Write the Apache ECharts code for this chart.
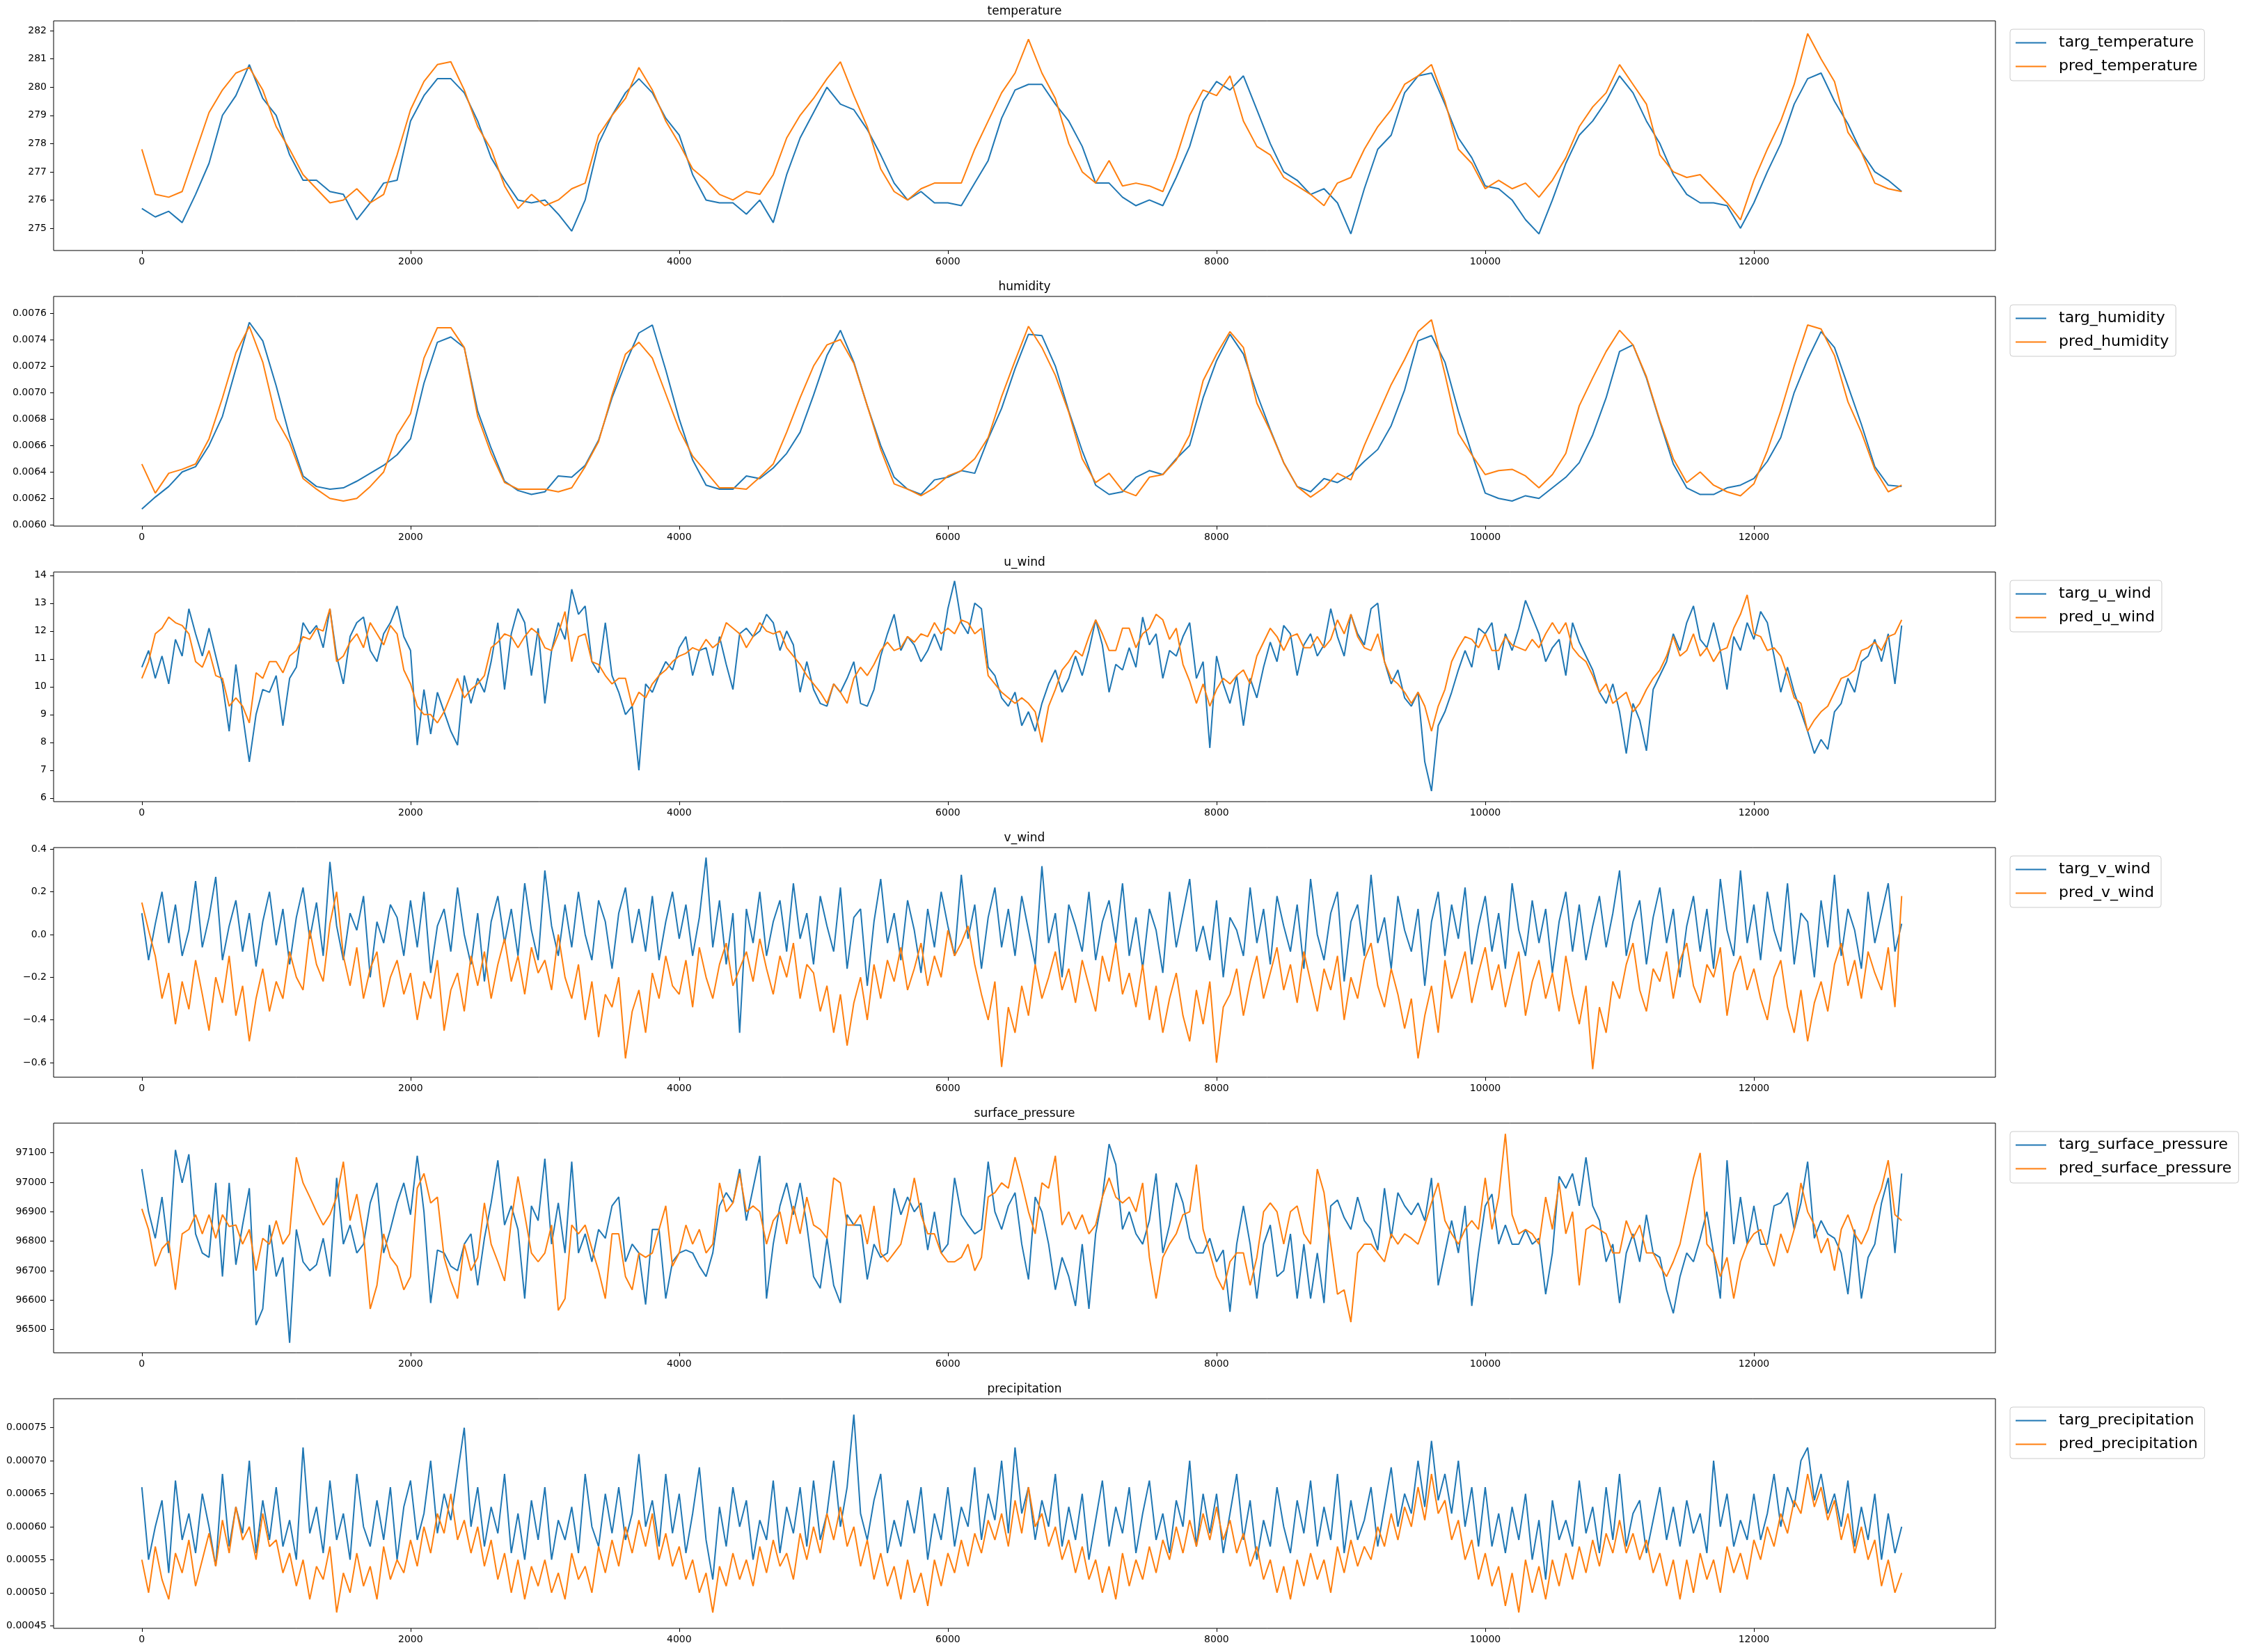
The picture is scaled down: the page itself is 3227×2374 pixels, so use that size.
<!DOCTYPE html>
<html>
<head>
<meta charset="utf-8">
<title>targ vs pred</title>
<script src="https://cdn.jsdelivr.net/npm/echarts@6/dist/echarts.min.js"></script>
<style>
html,body{margin:0;padding:0;background:#fff;}
#chart{width:3227px;height:2374px;}
</style>
</head>
<body>
<div id="chart"></div>
<script>
// samples: smooth panels every 100 steps, noisy ones every 50
const coarseStep = 100;
const fineStep = 50;
const xTicks = [0, 2000, 4000, 6000, 8000, 10000, 12000];

const targTemperature = [
  275.7,275.4,275.6,275.2,276.2,277.3,279.0,279.7,280.8,279.6,
  279.0,277.6,276.7,276.7,276.3,276.2,275.3,275.9,276.6,276.7,
  278.8,279.7,280.3,280.3,279.8,278.8,277.5,276.7,276.0,275.9,
  276.0,275.5,274.9,276.0,278.0,279.0,279.8,280.3,279.8,278.9,
  278.3,276.9,276.0,275.9,275.9,275.5,276.0,275.2,276.9,278.2,
  279.1,280.0,279.4,279.2,278.5,277.6,276.6,276.0,276.3,275.9,
  275.9,275.8,276.6,277.4,278.9,279.9,280.1,280.1,279.4,278.8,
  277.9,276.6,276.6,276.1,275.8,276.0,275.8,276.8,277.9,279.5,
  280.2,279.9,280.4,279.2,278.0,277.0,276.7,276.2,276.4,275.9,
  274.8,276.4,277.8,278.3,279.8,280.4,280.5,279.4,278.2,277.5,
  276.5,276.4,276.0,275.3,274.8,276.0,277.3,278.3,278.8,279.5,
  280.4,279.8,278.8,278.0,276.9,276.2,275.9,275.9,275.8,275.0,
  275.9,277.0,278.0,279.4,280.3,280.5,279.5,278.7,277.7,277.0,
  276.7,276.3
];
const predTemperature = [
  277.8,276.2,276.1,276.3,277.7,279.1,279.9,280.5,280.7,279.9,
  278.6,277.8,276.9,276.4,275.9,276.0,276.4,275.9,276.2,277.6,
  279.2,280.2,280.8,280.9,279.9,278.6,277.8,276.5,275.7,276.2,
  275.8,276.0,276.4,276.6,278.3,279.0,279.6,280.7,279.9,278.8,
  278.0,277.1,276.7,276.2,276.0,276.3,276.2,276.9,278.2,279.0,
  279.6,280.3,280.9,279.7,278.6,277.1,276.3,276.0,276.4,276.6,
  276.6,276.6,277.8,278.8,279.8,280.5,281.7,280.5,279.6,278.0,
  277.0,276.6,277.4,276.5,276.6,276.5,276.3,277.5,279.0,279.9,
  279.7,280.4,278.8,277.9,277.6,276.8,276.5,276.2,275.8,276.6,
  276.8,277.8,278.6,279.2,280.1,280.4,280.8,279.5,277.8,277.3,
  276.4,276.7,276.4,276.6,276.1,276.7,277.5,278.6,279.3,279.8,
  280.8,280.1,279.4,277.6,277.0,276.8,276.9,276.4,275.9,275.3,
  276.7,277.8,278.8,280.1,281.9,281.0,280.2,278.4,277.7,276.6,
  276.4,276.3
];

const targHumidity = [
  0.00612,0.00621,0.00629,0.00640,0.00644,0.00660,0.00682,0.00718,0.00753,0.00739,
  0.00705,0.00667,0.00637,0.00629,0.00627,0.00628,0.00633,0.00639,0.00645,0.00653,
  0.00665,0.00707,0.00738,0.00742,0.00734,0.00686,0.00658,0.00633,0.00626,0.00623,
  0.00625,0.00637,0.00636,0.00645,0.00664,0.00696,0.00722,0.00745,0.00751,0.00717,
  0.00680,0.00649,0.00630,0.00627,0.00627,0.00637,0.00635,0.00643,0.00654,0.00670,
  0.00698,0.00728,0.00747,0.00723,0.00690,0.00660,0.00636,0.00627,0.00623,0.00634,
  0.00636,0.00641,0.00639,0.00665,0.00688,0.00718,0.00744,0.00743,0.00720,0.00686,
  0.00656,0.00630,0.00623,0.00625,0.00636,0.00641,0.00638,0.00650,0.00660,0.00696,
  0.00724,0.00744,0.00729,0.00699,0.00672,0.00647,0.00629,0.00625,0.00635,0.00632,
  0.00638,0.00648,0.00657,0.00675,0.00702,0.00739,0.00743,0.00723,0.00686,0.00654,
  0.00624,0.00620,0.00618,0.00622,0.00620,0.00628,0.00636,0.00647,0.00668,0.00696,
  0.00731,0.00736,0.00711,0.00678,0.00646,0.00628,0.00623,0.00623,0.00628,0.00630,
  0.00635,0.00648,0.00666,0.00700,0.00725,0.00746,0.00734,0.00705,0.00676,0.00644,
  0.00630,0.00629
];
const predHumidity = [
  0.00646,0.00624,0.00639,0.00642,0.00646,0.00665,0.00696,0.00730,0.00750,0.00723,
  0.00680,0.00662,0.00635,0.00627,0.00620,0.00618,0.00620,0.00629,0.00640,0.00668,
  0.00684,0.00726,0.00749,0.00749,0.00734,0.00682,0.00654,0.00632,0.00627,0.00627,
  0.00627,0.00625,0.00628,0.00644,0.00663,0.00698,0.00729,0.00738,0.00726,0.00699,
  0.00672,0.00652,0.00640,0.00628,0.00628,0.00627,0.00636,0.00646,0.00670,0.00696,
  0.00720,0.00736,0.00740,0.00722,0.00690,0.00657,0.00631,0.00627,0.00622,0.00628,
  0.00637,0.00641,0.00650,0.00666,0.00697,0.00724,0.00750,0.00734,0.00713,0.00685,
  0.00650,0.00632,0.00639,0.00626,0.00622,0.00636,0.00638,0.00649,0.00668,0.00709,
  0.00729,0.00746,0.00734,0.00692,0.00671,0.00647,0.00629,0.00621,0.00628,0.00639,
  0.00634,0.00660,0.00683,0.00706,0.00725,0.00746,0.00755,0.00714,0.00669,0.00653,
  0.00638,0.00641,0.00642,0.00637,0.00628,0.00638,0.00654,0.00690,0.00711,0.00731,
  0.00747,0.00736,0.00712,0.00679,0.00650,0.00632,0.00640,0.00630,0.00625,0.00622,
  0.00631,0.00656,0.00686,0.00720,0.00751,0.00748,0.00728,0.00693,0.00670,0.00642,
  0.00625,0.00630
];

const targUWind = [
  10.7,11.3,10.3,11.1,10.1,11.7,11.1,12.8,11.9,11.1,
  12.1,11.1,10.1,8.4,10.8,9.0,7.3,9.0,9.9,9.8,
  10.4,8.6,10.3,10.7,12.3,11.9,12.2,11.4,12.8,11.1,
  10.1,11.8,12.3,12.5,11.3,10.9,11.9,12.3,12.9,11.8,
  11.3,7.9,9.9,8.3,9.8,9.1,8.4,7.9,10.4,9.4,
  10.3,9.8,10.9,12.3,9.9,11.9,12.8,12.3,10.4,12.1,
  9.4,11.3,12.3,11.7,13.5,12.6,12.9,10.9,10.5,12.3,
  10.4,9.8,9.0,9.3,7.0,10.1,9.8,10.4,10.9,10.6,
  11.4,11.8,10.4,11.3,11.4,10.4,11.8,10.8,9.9,11.9,
  12.1,11.8,12.0,12.6,12.3,11.3,12.0,11.5,9.8,10.9,
  9.9,9.4,9.3,10.1,9.8,10.3,10.9,9.4,9.3,9.9,
  11.1,11.9,12.6,11.3,11.8,11.5,10.9,11.3,11.9,11.3,
  12.8,13.8,12.3,11.9,13.0,12.8,10.7,10.4,9.6,9.3,
  9.8,8.6,9.1,8.4,9.4,10.1,10.6,9.8,10.3,11.1,
  10.4,11.3,12.4,11.5,9.8,10.8,10.6,11.4,10.7,12.5,
  11.5,11.9,10.3,11.3,11.1,11.8,12.3,10.3,10.9,7.8,
  11.1,10.1,9.4,10.4,8.6,10.3,9.6,10.7,11.6,10.9,
  12.2,11.9,10.4,11.5,11.9,11.1,11.5,12.8,11.8,11.1,
  12.6,11.9,11.5,12.8,13.0,10.9,10.1,10.6,9.6,9.3,
  9.8,7.3,6.25,8.6,9.1,9.8,10.6,11.3,10.7,12.1,
  11.9,12.3,10.6,11.9,11.3,12.1,13.1,12.5,11.9,10.9,
  11.4,11.7,10.4,12.3,11.6,11.1,10.6,9.8,9.4,10.1,
  9.1,7.6,9.4,8.8,7.7,9.9,10.4,10.9,11.9,11.3,
  12.3,12.9,11.7,11.4,12.3,11.3,9.9,11.8,11.3,12.3,
  11.7,12.7,12.3,11.1,9.8,10.7,9.8,9.1,8.4,7.6,
  8.1,7.75,9.1,9.4,10.3,9.8,10.9,11.1,11.7,10.9,
  11.9,10.1,12.2
];
const predUWind = [
  10.3,10.9,11.9,12.1,12.5,12.3,12.2,11.9,10.9,10.7,
  11.3,10.4,10.3,9.3,9.6,9.3,8.7,10.5,10.3,10.9,
  10.9,10.5,11.1,11.3,11.8,11.7,12.1,12.0,12.8,10.9,
  11.1,11.6,11.9,11.4,12.3,11.9,11.5,12.2,11.9,10.6,
  10.1,9.3,9.0,9.0,8.7,9.1,9.7,10.3,9.6,9.9,
  10.1,10.4,11.4,11.6,11.9,11.8,11.4,11.8,12.1,11.9,
  11.4,11.3,11.9,12.7,10.9,11.8,11.9,10.9,10.8,10.4,
  10.1,10.3,10.3,9.3,9.8,9.6,10.1,10.4,10.6,10.9,
  11.1,11.2,11.4,11.3,11.7,11.4,11.6,12.3,12.1,11.9,
  11.4,11.8,12.3,12.0,11.9,12.0,11.4,11.1,10.8,10.4,
  10.1,9.8,9.4,10.1,9.8,9.4,10.3,10.7,10.4,10.8,
  11.3,11.6,11.3,11.4,11.8,11.6,11.9,11.8,12.3,11.9,
  12.1,11.9,12.4,12.3,11.9,12.1,10.4,10.1,9.8,9.6,
  9.4,9.6,9.4,9.1,8.0,9.3,9.9,10.6,10.9,11.3,
  11.1,11.8,12.4,11.9,11.3,11.3,12.1,12.1,11.4,11.9,
  12.1,12.6,12.4,11.7,12.1,10.8,10.2,9.4,10.1,9.3,
  9.9,10.3,10.1,10.4,10.6,10.1,11.1,11.6,12.1,11.8,
  11.3,11.8,11.9,11.4,11.4,11.8,11.4,11.7,12.4,11.9,
  12.6,11.8,11.4,11.3,11.9,10.9,10.3,10.1,9.8,9.4,
  9.8,9.3,8.4,9.3,9.9,10.9,11.4,11.8,11.7,11.4,
  11.9,11.3,11.3,11.8,11.5,11.4,11.3,11.7,11.4,11.9,
  12.3,11.9,12.3,11.4,11.1,10.9,10.4,9.8,10.1,9.4,
  9.6,9.8,9.1,9.4,9.9,10.3,10.6,11.1,11.8,11.1,
  11.3,11.9,11.1,11.4,10.9,11.3,11.4,12.1,12.6,13.3,
  11.9,11.8,11.3,11.4,11.1,10.4,9.6,9.4,8.4,8.8,
  9.1,9.3,9.8,10.3,10.4,10.6,11.3,11.4,11.6,11.3,
  11.8,11.9,12.4
];

const targVWind = [
  0.10,-0.12,0.05,0.20,-0.04,0.14,-0.10,0.02,0.25,-0.06,
  0.08,0.27,-0.12,0.04,0.16,-0.08,0.10,-0.15,0.06,0.20,
  -0.05,0.12,-0.14,0.08,0.22,-0.02,0.15,-0.10,0.34,0.04,
  -0.12,0.10,0.02,0.18,-0.20,0.06,-0.04,0.14,0.08,-0.10,
  0.16,-0.06,0.20,-0.18,0.04,0.12,-0.08,0.22,0.00,-0.14,
  0.10,-0.22,0.06,0.18,-0.04,0.12,-0.10,0.24,0.02,-0.12,
  0.30,0.04,-0.10,0.14,-0.06,0.20,0.00,-0.12,0.16,0.06,
  -0.16,0.10,0.22,-0.04,0.12,-0.08,0.18,-0.12,0.06,0.20,
  -0.02,0.14,-0.10,0.08,0.36,-0.06,0.16,-0.14,0.10,-0.46,
  0.12,-0.04,0.20,-0.10,0.06,0.16,-0.08,0.24,-0.02,0.10,
  -0.14,0.18,0.04,-0.08,0.22,-0.16,0.08,0.12,-0.24,0.06,
  0.26,-0.04,0.10,-0.12,0.16,0.02,-0.18,0.12,-0.06,0.20,
  0.04,-0.10,0.28,-0.02,0.14,-0.16,0.08,0.22,-0.06,0.12,
  -0.10,0.18,0.02,-0.14,0.32,-0.04,0.10,-0.20,0.14,0.04,
  -0.08,0.20,-0.12,0.06,0.16,-0.04,0.24,-0.10,0.08,-0.16,
  0.12,0.02,-0.18,0.20,-0.06,0.10,0.26,-0.08,0.04,-0.12,
  0.16,-0.20,0.08,0.02,-0.10,0.22,-0.04,0.12,-0.14,0.18,
  0.04,-0.08,0.14,-0.16,0.26,0.00,-0.12,0.10,0.20,-0.22,
  0.06,0.14,-0.10,0.28,-0.04,0.08,-0.16,0.18,0.02,-0.08,
  0.12,-0.24,0.06,0.20,-0.10,0.14,-0.02,0.22,-0.14,0.04,
  0.18,-0.08,0.10,-0.16,0.24,0.02,-0.10,0.16,-0.04,0.12,
  -0.18,0.06,0.20,-0.08,0.14,-0.12,0.04,0.18,-0.06,0.10,
  0.30,-0.10,0.06,0.16,-0.14,0.08,0.22,-0.04,0.12,-0.20,
  0.04,0.18,-0.08,0.12,-0.16,0.26,0.02,-0.10,0.30,-0.04,
  0.14,-0.12,0.20,0.02,-0.08,0.24,-0.14,0.10,0.06,-0.20,
  0.16,-0.06,0.28,-0.10,0.12,0.02,-0.16,0.20,-0.04,0.10,
  0.24,-0.08,0.05
];
const predVWind = [
  0.15,0.02,-0.10,-0.30,-0.18,-0.42,-0.22,-0.35,-0.12,-0.28,
  -0.45,-0.20,-0.32,-0.10,-0.38,-0.24,-0.50,-0.30,-0.16,-0.36,
  -0.22,-0.30,-0.08,-0.20,-0.26,0.02,-0.14,-0.22,0.05,0.20,
  -0.10,-0.24,-0.06,-0.30,-0.16,-0.08,-0.34,-0.20,-0.12,-0.28,
  -0.18,-0.40,-0.22,-0.30,-0.12,-0.45,-0.26,-0.18,-0.36,-0.10,
  -0.24,-0.08,-0.30,-0.14,-0.02,-0.22,-0.10,-0.28,-0.06,-0.18,
  -0.12,-0.26,0.00,-0.20,-0.30,-0.14,-0.40,-0.22,-0.48,-0.28,
  -0.34,-0.20,-0.58,-0.36,-0.26,-0.46,-0.18,-0.30,-0.10,-0.24,
  -0.28,-0.12,-0.34,-0.06,-0.20,-0.30,-0.14,-0.04,-0.24,-0.16,
  -0.08,-0.22,-0.02,-0.16,-0.28,-0.10,-0.20,-0.04,-0.30,-0.14,
  -0.18,-0.36,-0.24,-0.46,-0.28,-0.52,-0.32,-0.20,-0.40,-0.14,
  -0.30,-0.12,-0.22,-0.06,-0.26,-0.16,-0.04,-0.24,-0.10,-0.20,
  0.02,-0.10,-0.04,0.04,-0.14,-0.28,-0.40,-0.22,-0.62,-0.34,
  -0.46,-0.24,-0.38,-0.14,-0.30,-0.20,-0.08,-0.26,-0.16,-0.32,
  -0.12,-0.24,-0.36,-0.10,-0.22,-0.04,-0.28,-0.18,-0.34,-0.14,
  -0.40,-0.24,-0.46,-0.30,-0.18,-0.38,-0.50,-0.26,-0.42,-0.22,
  -0.60,-0.34,-0.28,-0.16,-0.38,-0.22,-0.10,-0.30,-0.18,-0.06,
  -0.26,-0.14,-0.32,-0.08,-0.22,-0.36,-0.16,-0.26,-0.10,-0.40,
  -0.20,-0.30,-0.12,-0.04,-0.24,-0.34,-0.16,-0.28,-0.44,-0.30,
  -0.58,-0.38,-0.24,-0.46,-0.12,-0.30,-0.20,-0.08,-0.32,-0.18,
  -0.06,-0.26,-0.14,-0.34,-0.20,-0.08,-0.38,-0.22,-0.12,-0.30,
  -0.18,-0.36,-0.10,-0.28,-0.42,-0.24,-0.63,-0.34,-0.46,-0.22,
  -0.30,-0.14,-0.04,-0.26,-0.36,-0.16,-0.22,-0.08,-0.30,-0.12,
  -0.04,-0.24,-0.32,-0.14,-0.20,-0.06,-0.38,-0.18,-0.10,-0.26,
  -0.16,-0.30,-0.40,-0.20,-0.12,-0.34,-0.46,-0.26,-0.50,-0.32,
  -0.22,-0.36,-0.14,-0.04,-0.24,-0.12,-0.30,-0.08,-0.18,-0.26,
  -0.06,-0.34,0.18
];

const targPressure = [
  97045,96900,96810,96950,96760,97110,96998,97095,96825,96760,
  96745,96998,96680,96998,96720,96855,96980,96515,96570,96855,
  96680,96745,96455,96840,96730,96700,96720,96810,96680,97015,
  96790,96855,96760,96790,96930,96998,96760,96840,96930,96998,
  96890,97090,96900,96590,96770,96760,96715,96700,96790,96825,
  96650,96810,96930,97075,96855,96920,96840,96605,96920,96870,
  97080,96790,96930,96760,97070,96760,96825,96730,96840,96810,
  96920,96950,96730,96790,96760,96585,96840,96840,96605,96730,
  96760,96770,96760,96715,96680,96760,96920,96965,96930,97045,
  96870,96980,97090,96605,96790,96920,96998,96890,96998,96855,
  96680,96640,96810,96650,96590,96890,96855,96855,96670,96790,
  96745,96760,96980,96890,96950,96900,96930,96770,96900,96760,
  96790,97015,96890,96855,96825,96840,97070,96900,96840,96920,
  96965,96790,96670,96950,96900,96790,96635,96745,96680,96580,
  96790,96570,96825,96950,97130,97060,96840,96900,96825,96790,
  96870,97030,96760,96855,96998,96930,96810,96760,96760,96810,
  96730,96770,96560,96790,96920,96790,96605,96790,96855,96680,
  96700,96825,96605,96790,96605,96760,96590,96920,96940,96880,
  96840,96950,96870,96840,96770,96980,96810,96965,96920,96890,
  96930,96870,97015,96650,96760,96870,96760,96920,96580,96760,
  96920,96960,96790,96855,96790,96790,96840,96790,96810,96620,
  96760,97020,96980,97030,96920,97085,96920,96870,96730,96790,
  96590,96760,96825,96730,96890,96760,96745,96635,96555,96680,
  96760,96730,96810,96900,96760,96605,97075,96790,96950,96790,
  96920,96790,96790,96920,96930,96965,96840,96930,97070,96810,
  96870,96825,96810,96760,96620,96840,96605,96745,96790,96930,
  97015,96760,97030
];
const predPressure = [
  96910,96840,96715,96775,96800,96635,96825,96840,96890,96825,
  96890,96810,96890,96850,96855,96790,96840,96700,96810,96790,
  96870,96790,96825,97085,96998,96950,96900,96855,96890,96950,
  97070,96870,96960,96825,96570,96650,96825,96745,96715,96635,
  96680,96980,97030,96930,96950,96745,96665,96605,96790,96700,
  96745,96930,96790,96730,96665,96870,97020,96890,96760,96730,
  96760,96855,96565,96605,96855,96825,96855,96775,96700,96605,
  96825,96825,96680,96635,96760,96745,96760,96840,96920,96715,
  96760,96855,96790,96840,96760,96790,96998,96900,96930,97030,
  96900,96920,96900,96790,96870,96900,96790,96920,96825,96950,
  96855,96840,96810,97015,96998,96855,96855,96890,96790,96920,
  96760,96730,96760,96790,96890,97015,96890,96825,96825,96760,
  96730,96730,96745,96790,96700,96745,96950,96965,96998,96980,
  97085,96998,96900,96825,96998,96980,97090,96855,96900,96840,
  96890,96825,96855,96950,97015,96950,96930,96950,96900,96998,
  96745,96605,96745,96790,96825,96890,96900,97060,96840,96760,
  96680,96635,96730,96760,96760,96650,96745,96900,96930,96900,
  96790,96900,96920,96825,96790,97045,96965,96790,96620,96635,
  96525,96760,96790,96790,96760,96730,96825,96790,96825,96810,
  96790,96855,96930,96998,96870,96825,96790,96840,96870,96840,
  97015,96840,96950,97165,96890,96825,96840,96825,96790,96950,
  96840,96998,96825,96900,96650,96840,96855,96840,96825,96760,
  96760,96870,96810,96855,96760,96760,96715,96680,96730,96790,
  96900,97015,97100,96790,96760,96680,96745,96605,96730,96790,
  96825,96840,96775,96715,96825,96760,96840,96998,96900,96855,
  96760,96810,96700,96840,96890,96825,96790,96840,96920,96980,
  97075,96890,96870
];

const targPrecipitation = [
  0.00066,0.00055,0.00060,0.00064,0.00053,0.00067,0.00058,0.00062,0.00056,0.00065,
  0.00060,0.00054,0.00068,0.00057,0.00063,0.00059,0.00070,0.00056,0.00064,0.00058,
  0.00066,0.00057,0.00061,0.00055,0.00072,0.00059,0.00063,0.00056,0.00067,0.00058,
  0.00062,0.00055,0.00068,0.00060,0.00057,0.00064,0.00058,0.00066,0.00055,0.00063,
  0.00067,0.00058,0.00062,0.00070,0.00059,0.00065,0.00061,0.00068,0.00075,0.00060,
  0.00066,0.00057,0.00063,0.00059,0.00068,0.00056,0.00062,0.00055,0.00064,0.00058,
  0.00066,0.00055,0.00061,0.00058,0.00063,0.00056,0.00068,0.00060,0.00057,0.00065,
  0.00059,0.00066,0.00058,0.00062,0.00071,0.00060,0.00064,0.00057,0.00068,0.00059,
  0.00065,0.00056,0.00062,0.00069,0.00058,0.00052,0.00063,0.00057,0.00066,0.00060,
  0.00064,0.00055,0.00061,0.00058,0.00067,0.00056,0.00063,0.00059,0.00066,0.00057,
  0.00067,0.00058,0.00062,0.00070,0.00060,0.00066,0.00077,0.00062,0.00058,0.00064,
  0.00068,0.00056,0.00061,0.00057,0.00064,0.00059,0.00066,0.00055,0.00062,0.00058,
  0.00066,0.00057,0.00063,0.00060,0.00069,0.00058,0.00065,0.00061,0.00070,0.00059,
  0.00072,0.00062,0.00066,0.00058,0.00064,0.00060,0.00068,0.00057,0.00063,0.00058,
  0.00065,0.00055,0.00061,0.00067,0.00057,0.00063,0.00059,0.00066,0.00056,0.00062,
  0.00067,0.00058,0.00062,0.00056,0.00064,0.00060,0.00070,0.00057,0.00065,0.00059,
  0.00065,0.00056,0.00062,0.00068,0.00058,0.00064,0.00055,0.00061,0.00057,0.00066,
  0.00060,0.00056,0.00064,0.00059,0.00067,0.00057,0.00063,0.00058,0.00068,0.00056,
  0.00064,0.00058,0.00061,0.00066,0.00057,0.00063,0.00069,0.00060,0.00065,0.00062,
  0.00070,0.00063,0.00073,0.00064,0.00068,0.00062,0.00070,0.00060,0.00066,0.00057,
  0.00066,0.00057,0.00062,0.00056,0.00063,0.00058,0.00065,0.00055,0.00061,0.00052,
  0.00064,0.00058,0.00061,0.00057,0.00067,0.00059,0.00063,0.00056,0.00066,0.00058,
  0.00068,0.00057,0.00062,0.00064,0.00056,0.00061,0.00066,0.00058,0.00063,0.00057,
  0.00064,0.00059,0.00062,0.00056,0.00070,0.00060,0.00065,0.00057,0.00061,0.00058,
  0.00065,0.00058,0.00062,0.00068,0.00060,0.00066,0.00063,0.00070,0.00072,0.00064,
  0.00068,0.00062,0.00065,0.00060,0.00067,0.00057,0.00063,0.00058,0.00065,0.00055,
  0.00062,0.00056,0.00060
];
const predPrecipitation = [
  0.00055,0.00050,0.00057,0.00052,0.00049,0.00056,0.00053,0.00058,0.00051,0.00055,
  0.00059,0.00054,0.00061,0.00056,0.00063,0.00058,0.00060,0.00055,0.00062,0.00057,
  0.00058,0.00053,0.00056,0.00051,0.00055,0.00049,0.00054,0.00052,0.00057,0.00047,
  0.00053,0.00050,0.00056,0.00051,0.00054,0.00049,0.00057,0.00052,0.00055,0.00053,
  0.00058,0.00054,0.00060,0.00056,0.00062,0.00059,0.00065,0.00058,0.00061,0.00056,
  0.00060,0.00054,0.00058,0.00052,0.00056,0.00050,0.00055,0.00049,0.00054,0.00051,
  0.00055,0.00050,0.00053,0.00049,0.00056,0.00052,0.00054,0.00050,0.00057,0.00053,
  0.00058,0.00054,0.00060,0.00056,0.00061,0.00057,0.00062,0.00055,0.00059,0.00054,
  0.00057,0.00052,0.00055,0.00050,0.00053,0.00047,0.00054,0.00051,0.00056,0.00052,
  0.00055,0.00051,0.00057,0.00053,0.00058,0.00054,0.00056,0.00052,0.00059,0.00055,
  0.00060,0.00056,0.00062,0.00058,0.00063,0.00057,0.00060,0.00054,0.00058,0.00052,
  0.00056,0.00051,0.00054,0.00049,0.00055,0.00050,0.00053,0.00048,0.00055,0.00051,
  0.00056,0.00053,0.00058,0.00054,0.00059,0.00056,0.00061,0.00058,0.00062,0.00057,
  0.00064,0.00059,0.00066,0.00060,0.00062,0.00057,0.00060,0.00055,0.00058,0.00053,
  0.00057,0.00052,0.00055,0.00050,0.00054,0.00049,0.00056,0.00051,0.00055,0.00052,
  0.00057,0.00053,0.00058,0.00055,0.00060,0.00056,0.00061,0.00057,0.00062,0.00058,
  0.00063,0.00058,0.00061,0.00056,0.00059,0.00054,0.00057,0.00052,0.00055,0.00050,
  0.00054,0.00049,0.00055,0.00051,0.00056,0.00052,0.00055,0.00050,0.00057,0.00053,
  0.00058,0.00054,0.00057,0.00055,0.00060,0.00057,0.00062,0.00058,0.00063,0.00060,
  0.00066,0.00061,0.00068,0.00062,0.00064,0.00058,0.00061,0.00055,0.00058,0.00052,
  0.00056,0.00051,0.00054,0.00048,0.00053,0.00047,0.00055,0.00050,0.00054,0.00049,
  0.00055,0.00051,0.00056,0.00052,0.00057,0.00053,0.00058,0.00054,0.00059,0.00056,
  0.00061,0.00056,0.00059,0.00055,0.00058,0.00053,0.00056,0.00051,0.00055,0.00049,
  0.00055,0.00050,0.00056,0.00052,0.00055,0.00050,0.00057,0.00053,0.00056,0.00052,
  0.00058,0.00055,0.00060,0.00057,0.00062,0.00059,0.00064,0.00062,0.00068,0.00063,
  0.00066,0.00061,0.00064,0.00058,0.00062,0.00056,0.00060,0.00055,0.00058,0.00051,
  0.00055,0.00050,0.00053
];

const minus = s => s.replace('-', '\u2212');

const panels = [
  { name: 'temperature', targ: targTemperature, pred: predTemperature, step: coarseStep,
    min: 274.21, max: 282.35, ticks: [275, 276, 277, 278, 279, 280, 281, 282],
    fmt: v => String(v) },
  { name: 'humidity', targ: targHumidity, pred: predHumidity, step: coarseStep,
    min: 0.005991, max: 0.007726,
    ticks: [0.0060, 0.0062, 0.0064, 0.0066, 0.0068, 0.0070, 0.0072, 0.0074, 0.0076],
    fmt: v => v.toFixed(4) },
  { name: 'u_wind', targ: targUWind, pred: predUWind, step: fineStep,
    min: 5.87, max: 14.12, ticks: [6, 7, 8, 9, 10, 11, 12, 13, 14],
    fmt: v => String(v) },
  { name: 'v_wind', targ: targVWind, pred: predVWind, step: fineStep,
    min: -0.668, max: 0.407, ticks: [-0.6, -0.4, -0.2, 0, 0.2, 0.4],
    fmt: v => minus(v.toFixed(1)) },
  { name: 'surface_pressure', targ: targPressure, pred: predPressure, step: fineStep,
    min: 96421, max: 97201, ticks: [96500, 96600, 96700, 96800, 96900, 97000, 97100],
    fmt: v => String(v) },
  { name: 'precipitation', targ: targPrecipitation, pred: predPrecipitation, step: fineStep,
    min: 0.000446, max: 0.000794,
    ticks: [0.00045, 0.00050, 0.00055, 0.00060, 0.00065, 0.00070, 0.00075],
    fmt: v => v.toFixed(5) }
];

const FONT = 'DejaVu Sans';
const LEFT = 77, TOP = 30, W = 2790, H = 330, STEP = 396;

const toPairs = (arr, step) => arr.map((v, i) => [i * step, v]);

let option = {
  animation: false,
  backgroundColor: '#fff',
  title: [], grid: [], xAxis: [], yAxis: [], legend: [], series: []
};

panels.forEach((p, i) => {
  let top = TOP + STEP * i;
  option.title.push({
    text: p.name, left: LEFT + W / 2, top: top - 22, textAlign: 'center', padding: 0,
    textStyle: { fontFamily: FONT, fontSize: 17, fontWeight: 'normal', color: '#000' }
  });
  option.grid.push({
    left: LEFT, top: top, width: W, height: H,
    show: true, borderColor: '#000', borderWidth: 1, backgroundColor: 'transparent'
  });
  option.xAxis.push({
    type: 'value', gridIndex: i, min: -657, max: 13798,
    axisLine: { show: false, onZero: false },
    splitLine: { show: false },
    axisTick: { show: true, customValues: xTicks, length: 5, lineStyle: { color: '#000', width: 1 } },
    axisLabel: { customValues: xTicks, margin: 9, fontSize: 14, fontFamily: FONT, color: '#000',
                 formatter: v => String(v) }
  });
  option.yAxis.push({
    type: 'value', gridIndex: i, min: p.min, max: p.max,
    axisLine: { show: false, onZero: false },
    splitLine: { show: false },
    axisTick: { show: true, customValues: p.ticks, length: 5, lineStyle: { color: '#000', width: 1 } },
    axisLabel: { customValues: p.ticks, margin: 10, fontSize: 14, fontFamily: FONT, color: '#000',
                 formatter: p.fmt }
  });
  option.legend.push({
    data: ['targ_' + p.name, 'pred_' + p.name],
    orient: 'vertical', left: 2888, top: top + 12,
    padding: [8, 10, 9, 8], itemGap: 11,
    itemWidth: 44, itemHeight: 2, icon: 'rect',
    borderColor: '#cccccc', borderWidth: 1, borderRadius: 4,
    backgroundColor: 'rgba(255,255,255,0.8)',
    textStyle: { fontFamily: FONT, fontSize: 22, color: '#000', lineHeight: 23, padding: [0, 0, 0, 13] }
  });
  option.series.push({
    name: 'targ_' + p.name, type: 'line', xAxisIndex: i, yAxisIndex: i,
    data: toPairs(p.targ, p.step), symbol: 'none', showSymbol: false,
    color: '#1f77b4', lineStyle: { width: 2, color: '#1f77b4' }
  });
  option.series.push({
    name: 'pred_' + p.name, type: 'line', xAxisIndex: i, yAxisIndex: i,
    data: toPairs(p.pred, p.step), symbol: 'none', showSymbol: false,
    color: '#ff7f0e', lineStyle: { width: 2, color: '#ff7f0e' }
  });
});

let chart = echarts.init(document.getElementById('chart'), null, { renderer: 'canvas' });
chart.setOption(option);
</script>
</body>
</html>
